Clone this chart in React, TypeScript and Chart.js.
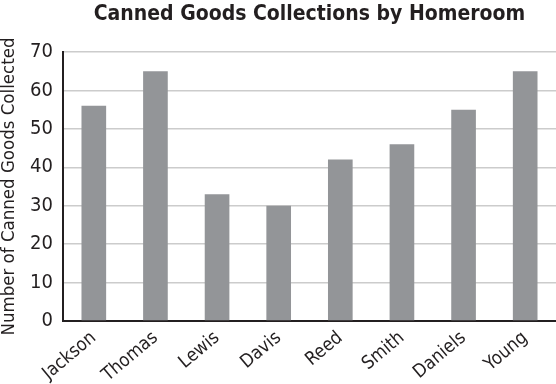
import { useEffect, useRef } from "react";
import { Chart, registerables } from "chart.js";

Chart.register(...registerables);

const categories = ["Jackson", "Thomas", "Lewis", "Davis", "Reed", "Smith", "Daniels", "Young"];
const values = [56, 65, 33, 30, 42, 46, 55, 65];
const yMin = 0;
const yMax = 70;
const yStep = 10;
const chartTitle = "Canned Goods Collections by Homeroom";
const yAxisTitle = "Number of Canned Goods Collected";

const FONT = "'Liberation Sans Narrow', 'DejaVu Sans Condensed', 'Arial Narrow', sans-serif";
const INK = "#231f20";

const titlePlugin = {
  id: "centeredTitle",
  afterDraw(chart: any) {
    const { ctx, chartArea } = chart;
    ctx.save();
    ctx.font = `bold 21px ${FONT}`;
    ctx.fillStyle = INK;
    ctx.textAlign = "center";
    ctx.textBaseline = "alphabetic";
    ctx.fillText(chartTitle, (chartArea.left + chartArea.right) / 2, 20);
    ctx.restore();
  },
};

export default function App() {
  const ref = useRef<HTMLCanvasElement>(null);

  useEffect(() => {
    if (!ref.current) return;
    const chart = new Chart(ref.current, {
      type: "bar",
      data: {
        labels: categories,
        datasets: [
          {
            data: values,
            backgroundColor: "#939598",
            borderWidth: 0,
            barPercentage: 0.8,
            categoryPercentage: 0.5,
          },
        ],
      },
      options: {
        responsive: false,
        animation: false,
        layout: { padding: { top: 52, left: 0, right: 0, bottom: 0 } },
        plugins: {
          legend: { display: false },
          tooltip: { enabled: false },
          title: { display: false },
        },
        scales: {
          x: {
            grid: { display: false, drawTicks: false },
            border: { display: true, color: INK, width: 2 },
            ticks: {
              color: INK,
              font: { family: FONT, size: 18.5 },
              maxRotation: 40,
              minRotation: 40,
              padding: 6,
            },
            afterFit(scale: any) {
              scale.height = 63;
            },
          },
          y: {
            min: yMin,
            max: yMax,
            grid: { color: "#cccccc", lineWidth: 1.5, drawTicks: false },
            border: { display: true, color: INK, width: 2 },
            ticks: {
              stepSize: yStep,
              color: INK,
              font: { family: FONT, size: 20 },
              padding: 10,
            },
            title: {
              display: true,
              text: yAxisTitle,
              color: INK,
              font: { family: FONT, size: 18.5, lineHeight: 1 },
              padding: 0,
            },
            afterFit(scale: any) {
              scale.width = 63;
            },
          },
        },
      },
      plugins: [titlePlugin],
    });
    return () => chart.destroy();
  }, []);

  return (
    <div style={{ position: "fixed", left: 0, top: 0, width: 556, height: 384, background: "#fff" }}>
      <canvas ref={ref} width={556} height={384} />
    </div>
  );
}
